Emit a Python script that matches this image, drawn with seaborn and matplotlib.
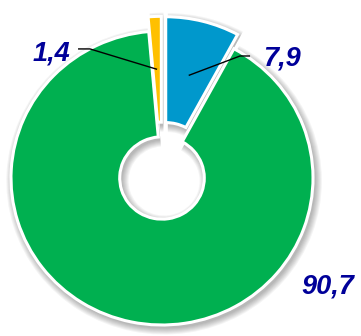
import numpy as np
import matplotlib
matplotlib.use("Agg")
import matplotlib.pyplot as plt
import seaborn as sns

# Shares (percent), in drawing order: clockwise from 12 o'clock
labels = ["7,9", "90,7", "1,4"]
values = [7.9, 90.7, 1.4]
colors = ["#0098CC", "#00B050", "#FFC000"]
explode = [0.10, 0.0, 0.10]

sns.set_theme(style="white")
plt.rcParams["font.family"] = ["Liberation Sans", "DejaVu Sans"]

fig = plt.figure(figsize=(3.61, 3.36), dpi=100)
ax = fig.add_axes([0, 0, 1, 1])

RADIUS = 1.0
WIDTH = 0.72
START = 90

# soft shadow around the ring: stacked translucent grey copies
for d in np.linspace(0.005, 0.045, 7):
    ax.pie(values, radius=RADIUS + d, startangle=START, counterclock=False,
           explode=explode, center=(0.014, -0.02),
           colors=["#000000"] * len(values),
           wedgeprops=dict(width=WIDTH + 2 * d, linewidth=0, alpha=0.045))

wedges, _ = ax.pie(values, radius=RADIUS, startangle=START, counterclock=False,
                   explode=explode, colors=colors,
                   wedgeprops=dict(width=WIDTH, edgecolor="white", linewidth=2.2))

txt_kw = dict(fontsize=19.5, fontweight="bold", fontstyle="italic",
              color="#000099", ha="center", va="center")

# label positions and leader lines (elbow then line into the wedge)
label_pos = {"7,9": (0.795, 0.815), "90,7": (1.10, -0.74), "1,4": (-0.735, 0.85)}
leader = {"7,9": ((0.583, 0.83), (0.517, 0.83), 0.62),
          "1,4": ((-0.556, 0.878), (-0.477, 0.878), 0.64)}

total = sum(values)
acc = 0.0
for lab, val, ex in zip(labels, values, explode):
    mid = np.deg2rad(START - 360 * (acc + val / 2) / total)
    acc += val
    ax.text(*label_pos[lab], lab, **txt_kw)
    if lab in leader:
        (x0, y0), (x1, y1), r = leader[lab]
        ax_x = (ex + r) * np.cos(mid)
        ax_y = (ex + r) * np.sin(mid)
        ax.plot([x0, x1, ax_x], [y0, y1, ax_y], color="black", lw=1.0,
                solid_capstyle="butt")

ax.set_aspect("auto")
ax.set_xlim(-162 / 151, (361 - 162) / 151)
ax.set_ylim(-(336 - 178) / 147, 178 / 147)
ax.axis("off")

fig.savefig("out.png", dpi=100, facecolor="white")
